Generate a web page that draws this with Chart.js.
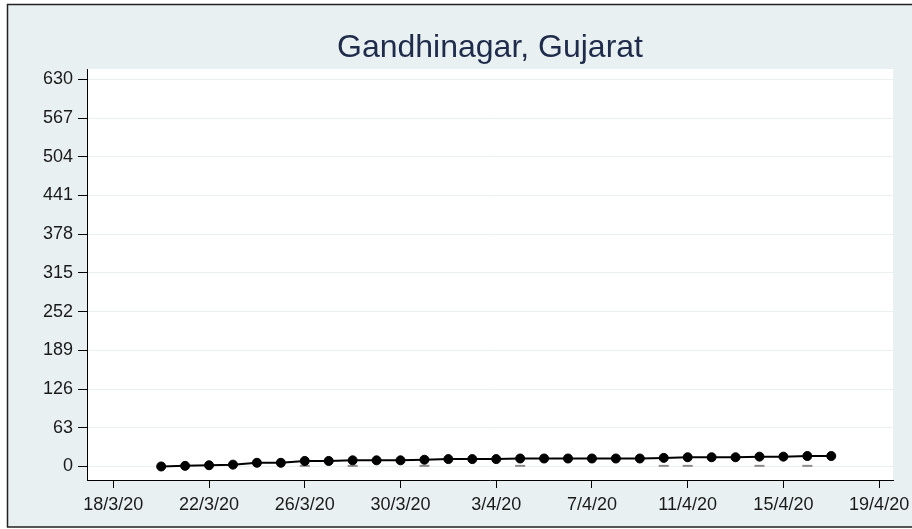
<!DOCTYPE html>
<html>
<head>
<meta charset="utf-8">
<script src="https://cdn.jsdelivr.net/npm/chart.js@4.4.0/dist/chart.umd.min.js"></script>
<style>
body { margin: 0; background: #ffffff; }
canvas { display: block; }
</style>
</head>
<body>
<canvas id="city_canvas" width="912" height="529"></canvas>
<script>
// cumulative cases, one point per day
var dates = ['20/3/20','21/3/20','22/3/20','23/3/20','24/3/20','25/3/20','26/3/20','27/3/20',
    '28/3/20','29/3/20','30/3/20','31/3/20','1/4/20','2/4/20','3/4/20','4/4/20','5/4/20',
    '6/4/20','7/4/20','8/4/20','9/4/20','10/4/20','11/4/20','12/4/20','13/4/20','14/4/20',
    '15/4/20','16/4/20','17/4/20'];
var cases = [0,1,2,3,6,6,9,9,10,10,10,11,12,12,12,13,13,13,13,13,13,14,15,15,15,16,16,17,17];

// small grey dashes near the zero line
var dash_dates = ['26/3/20','28/3/20','31/3/20','4/4/20','10/4/20','11/4/20','14/4/20','16/4/20'];
var dash_values = [1,1,1,1,1,1,1,1];

var x_tick_labels = ['18/3/20','22/3/20','26/3/20','30/3/20','3/4/20','7/4/20','11/4/20','15/4/20','19/4/20'];
var y_ticks = [0,63,126,189,252,315,378,441,504,567,630];

var title_text = 'Gandhinagar, Gujarat';

// days counted from 18/3/20
function dayOf(label) {
    var p = label.split('/');
    var d = new Date(2000 + Number(p[2]), Number(p[1]) - 1, Number(p[0]));
    var start = new Date(2020, 2, 18);
    return Math.round((d - start) / 86400000);
}

var case_points = dates.map(function (d, i) { return {x: dayOf(d), y: cases[i]}; });
var dash_points = dash_dates.map(function (d, i) { return {x: dayOf(d), y: dash_values[i]}; });

var backgroundPlugin = {
    id: 'stata_background',
    beforeDraw: function (chart) {
        var ctx = chart.ctx;
        var a = chart.chartArea;
        ctx.save();
        ctx.fillStyle = '#ffffff';
        ctx.fillRect(0, 0, chart.width, chart.height);
        ctx.fillStyle = '#e9f0f2';
        ctx.fillRect(7, 4, chart.width - 7, 523);
        ctx.strokeStyle = '#222222';
        ctx.lineWidth = 1.5;
        ctx.beginPath();
        ctx.moveTo(chart.width, 4.5);
        ctx.lineTo(7.5, 4.5);
        ctx.lineTo(7.5, 527);
        ctx.lineTo(chart.width, 527);
        ctx.stroke();
        ctx.fillStyle = '#ffffff';
        ctx.fillRect(a.left, a.top, a.right - a.left, a.bottom - a.top);
        ctx.restore();
    }
};

var tickFont = {family: "'Liberation Sans', Arial, sans-serif", size: 18};

var city_canvas = document.getElementById('city_canvas');
var ctx = city_canvas.getContext('2d');
var cityChart = new Chart(ctx, {
    type: 'line',
    data: {
        datasets: [{
            label: 'Cases',
            data: case_points,
            borderColor: '#000000',
            borderWidth: 2,
            pointBackgroundColor: '#000000',
            pointBorderColor: '#000000',
            pointRadius: 4.5,
            pointBorderWidth: 1,
            tension: 0
        }, {
            label: 'Dash',
            data: dash_points,
            showLine: false,
            pointStyle: 'line',
            pointRadius: 5,
            pointBorderColor: '#8c8c8c',
            pointBorderWidth: 2
        }]
    },
    options: {
        responsive: false,
        animation: false,
        layout: {padding: {left: 0, right: 19, top: 0, bottom: 0}},
        plugins: {
            legend: {display: false},
            tooltip: {enabled: false},
            title: {
                display: true,
                text: title_text,
                fullSize: false,
                color: '#1e2b4a',
                font: {family: "'Liberation Sans', Arial, sans-serif", size: 32, weight: 'normal'},
                padding: {top: 29, bottom: 1.6}
            }
        },
        scales: {
            x: {
                type: 'linear',
                min: -1.1,
                max: 32.58,
                afterBuildTicks: function (scale) {
                    scale.ticks = x_tick_labels.map(function (l) { return {value: dayOf(l)}; });
                },
                afterFit: function (scale) {
                    scale.height = 49;
                    scale.paddingLeft = 0;
                    scale.paddingRight = 0;
                },
                grid: {drawOnChartArea: false, tickLength: 8, tickColor: '#000000'},
                border: {color: '#000000', width: 1},
                ticks: {
                    font: tickFont,
                    color: '#1a1a1a',
                    padding: 6,
                    maxRotation: 0,
                    callback: function (value, index) { return x_tick_labels[index]; }
                }
            },
            y: {
                min: -22,
                max: 646.8,
                afterBuildTicks: function (scale) {
                    scale.ticks = y_ticks.map(function (v) { return {value: v}; });
                },
                afterFit: function (scale) { scale.width = 87; },
                grid: {color: '#eceff0', lineWidth: 1, tickLength: 9, tickColor: '#000000'},
                border: {color: '#000000', width: 1},
                ticks: {
                    font: tickFont,
                    color: '#1a1a1a',
                    padding: 5,
                    callback: function (value) { return String(value); }
                }
            }
        }
    },
    plugins: [backgroundPlugin]
});
</script>
</body>
</html>
